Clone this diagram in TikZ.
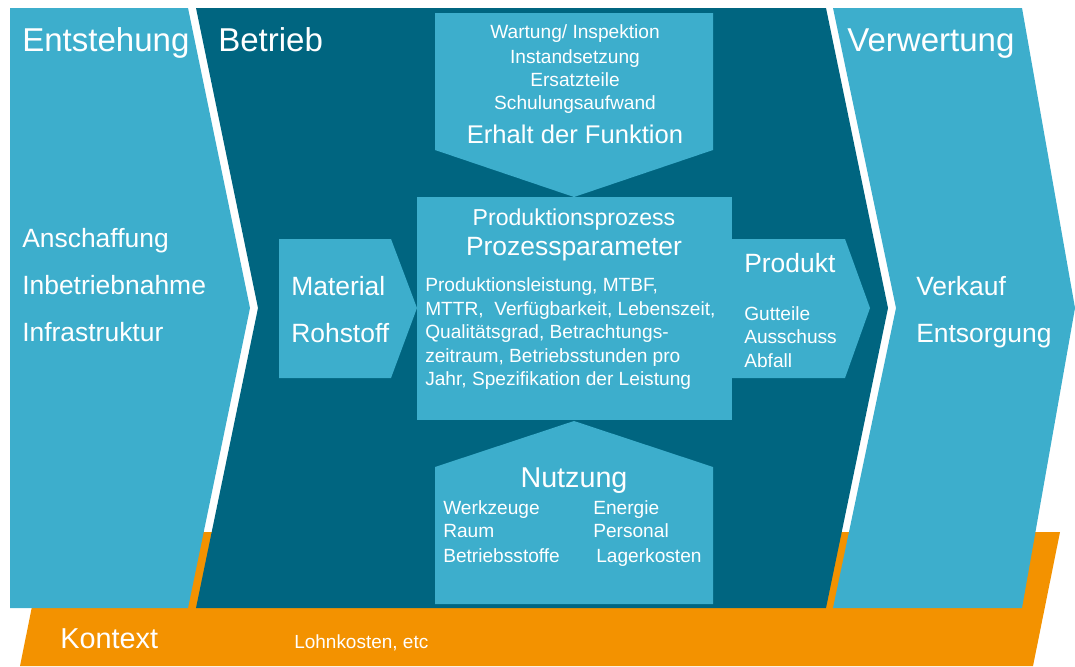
\documentclass[tikz,border=0pt]{standalone}
\usepackage{fontspec}
\setmainfont{Liberation Sans}
\definecolor{hellblau}{RGB}{61,174,204}
\definecolor{dunkelblau}{RGB}{0,101,128}
\definecolor{kontextorange}{RGB}{243,146,0}
\tikzset{
	titel/.style={text=white, inner sep=0pt, anchor=base west, font=\fontsize{23.5}{27}\selectfont},
	gross/.style={text=white, inner sep=0pt, anchor=base west, font=\fontsize{18.8}{22}\selectfont},
	klein/.style={text=white, inner sep=0pt, anchor=base west, font=\fontsize{13.6}{16}\selectfont},
}
\begin{document}
\begin{tikzpicture}[x=0.025cm, y=-0.025cm]
		\useasboundingbox (0, 0) rectangle (1075, 666);
		% Hintergrund
		\fill[kontextorange] (20, 666) -- (1033, 666) -- (1060, 532) -- (47, 532) -- cycle;
		\fill[hellblau] (10, 8) -- (188, 8) -- (250, 308) -- (188, 608) -- (10, 608) -- cycle;
		\fill[dunkelblau] (196, 8) -- (826, 8) -- (888, 308) -- (826, 608) -- (196, 608) -- (258, 308) -- cycle;
		\fill[hellblau] (833, 8) -- (1022, 8) -- (1075, 308) -- (1022, 608) -- (833, 608) -- (896, 308) -- cycle;
		% Kaesten im Betrieb
		\fill[hellblau] (435, 13) -- (713, 13) -- (713, 150) -- (574, 197) -- (435, 150) -- cycle;
		\fill[hellblau] (417, 197) rectangle (732, 420);
		\fill[hellblau] (279, 239) -- (391, 239) -- (417, 308) -- (391, 378) -- (279, 378) -- cycle;
		\fill[hellblau] (732, 239) -- (845, 239) -- (870, 308) -- (845, 378) -- (732, 378) -- cycle;
		\fill[hellblau] (435, 604) -- (435, 467) -- (574, 421) -- (713, 467) -- (713, 604) -- cycle;
		% Ueberschriften
		\node[titel] (entstehung) at (22, 51) {Entstehung};
		\node[titel] (betrieb) at (218, 51) {Betrieb};
		\node[titel] (verwertung) at (847, 51) {Verwertung};
		\node[titel, font=\fontsize{20.5}{24}\selectfont] (kontext) at (60, 648) {Kontext};
		\node[klein, font=\fontsize{13.5}{16}\selectfont] (lohn) at (294, 648) {Lohnkosten, etc};
		% Entstehung
		\node[gross] (anschaffung) at (22, 247) {Anschaffung};
		\node[gross] (inbetrieb) at (22, 294) {Inbetriebnahme};
		\node[gross] (infra) at (22, 341) {Infrastruktur};
		% Material
		\node[gross] (material) at (291, 295) {Material};
		\node[gross] (rohstoff) at (291, 342) {Rohstoff};
		% Verwertung
		\node[gross] (verkauf) at (916, 295) {Verkauf};
		\node[gross] (entsorgung) at (916, 342) {Entsorgung};
		% Erhalt der Funktion
		\node[klein, anchor=base] (wartung) at (575, 38) {Wartung/ Inspektion};
		\node[klein, anchor=base] (instand) at (575, 63) {Instandsetzung};
		\node[klein, anchor=base] (ersatz) at (575, 86) {Ersatzteile};
		\node[klein, anchor=base] (schulung) at (575, 109) {Schulungsaufwand};
		\node[gross, anchor=base, font=\fontsize{18.2}{22}\selectfont] (erhalt) at (575, 143) {Erhalt der Funktion};
		% Produktionsprozess
		\node[klein, anchor=base, font=\fontsize{16.4}{20}\selectfont] (prozess) at (574, 225) {Produktionsprozess};
		\node[gross, anchor=base] (parameter) at (574, 255) {Prozessparameter};
		\node[klein] (par1) at (425, 291) {Produktionsleistung, MTBF,};
		\node[klein] (par2) at (425, 315) {MTTR, \ Verfügbarkeit, Lebenszeit,};
		\node[klein] (par3) at (425, 338) {Qualitätsgrad, Betrachtungs-};
		\node[klein] (par4) at (425, 362) {zeitraum, Betriebsstunden pro};
		\node[klein] (par5) at (425, 385) {Jahr, Spezifikation der Leistung};
		% Produkt
		\node[gross] (produkt) at (744, 272) {Produkt};
		\node[klein] (gutteile) at (744, 320) {Gutteile};
		\node[klein] (ausschuss) at (744, 343) {Ausschuss};
		\node[klein] (abfall) at (744, 367) {Abfall};
		% Nutzung
		\node[titel, anchor=base, font=\fontsize{20.4}{24}\selectfont] (nutzung) at (574, 487) {Nutzung};
		\node[klein] (werkzeuge) at (443, 514) {Werkzeuge};
		\node[klein] (raum) at (443, 537) {Raum};
		\node[klein] (betriebsstoffe) at (443, 562) {Betriebsstoffe};
		\node[klein] (energie) at (593, 514) {Energie};
		\node[klein] (personal) at (593, 537) {Personal};
		\node[klein] (lager) at (596, 562) {Lagerkosten};
	\end{tikzpicture}
\end{document}
